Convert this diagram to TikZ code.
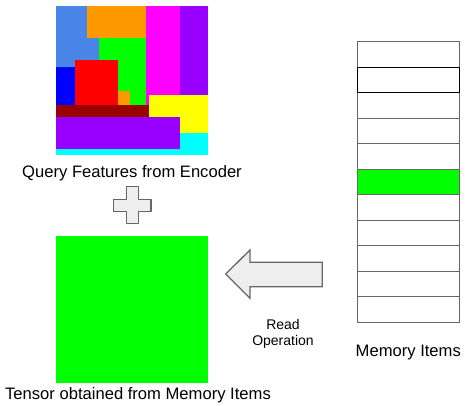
\documentclass[tikz,border=0pt]{standalone}
\usepackage{fontspec}
\setmainfont{Liberation Sans}
\definecolor{skyblue}{HTML}{4A86E8}
\definecolor{amber}{HTML}{FF9900}
\definecolor{lime}{HTML}{00FF00}
\definecolor{pink}{HTML}{FF00FF}
\definecolor{violet}{HTML}{9900FF}
\definecolor{pureblue}{HTML}{0000FF}
\definecolor{purered}{HTML}{FF0000}
\definecolor{maroon}{HTML}{990000}
\definecolor{lemon}{HTML}{FFFF00}
\definecolor{aqua}{HTML}{00FFFF}
\definecolor{shapefill}{HTML}{EEEEEE}
\definecolor{shapeline}{HTML}{666666}

\begin{document}
\begin{tikzpicture}[x=1pt, y=-1pt, every node/.style={font=\fontsize{16.6}{19}\selectfont}]
  \useasboundingbox (0,0) rectangle (467,406);

  % Query features
  \fill[aqua] (56,6) rectangle (208,155);
  \fill[skyblue] (56,6) rectangle (99,67);
  \fill[amber] (87,6) rectangle (146,38);
  \fill[lime] (99,38) rectangle (146,105);
  \fill[pink] (146,6) rectangle (180,105);
  \fill[violet] (180,6) rectangle (208,95);
  \fill[pureblue] (56,67) rectangle (75,105);
  \fill[purered] (75,60) rectangle (118,105);
  \fill[amber] (118,91) rectangle (130,105);
  \fill[maroon] (56,105) rectangle (149,117);
  \fill[lemon] (149,95) rectangle (208,133);
  \fill[violet] (56,117) rectangle (180,149);
  \node[anchor=base] (query) at (132,177.3) {Query Features from Encoder};

  % Plus
  \draw[shapeline, fill=shapefill, line width=1.3pt, line join=round]
    (126.7,186.7) -- (138.3,186.7) -- (138.3,199.3) -- (151,199.3) -- (151,211.7)
    -- (138.3,211.7) -- (138.3,223.3) -- (126.7,223.3) -- (126.7,211.7)
    -- (113.3,211.7) -- (113.3,199.3) -- (126.7,199.3) -- cycle;

  % Tensor from memory
  \fill[lime] (56,236) rectangle (208,383);
  \node[anchor=base] (tensor) at (138,400) {Tensor obtained from Memory Items};

  % Read arrow
  \draw[shapeline, fill=shapefill, line width=1.3pt]
    (225.7,274) -- (250,250) -- (250,262.3) -- (322.3,262.3) -- (322.3,286.7)
    -- (250,286.7) -- (250,298.3) -- cycle;
  \node[align=center, font=\fontsize{14}{16}\selectfont] (readop) at (283,333.5) {Read\\Operation};

  % Memory items
  \foreach \i in {0,...,10}
    \draw[shapeline, line width=1pt] (357.7,41.7+25.5*\i) rectangle (459.3,67.2+25.5*\i);
  \draw[shapeline, fill=lime, line width=1pt] (357.7,169.2) rectangle (459.3,194.7);
  \draw[black, line width=1pt] (357.7,67.2) rectangle (459.3,92.7);
  \node[anchor=base] (memlabel) at (408.3,356.7) {Memory Items};
\end{tikzpicture}
\end{document}
